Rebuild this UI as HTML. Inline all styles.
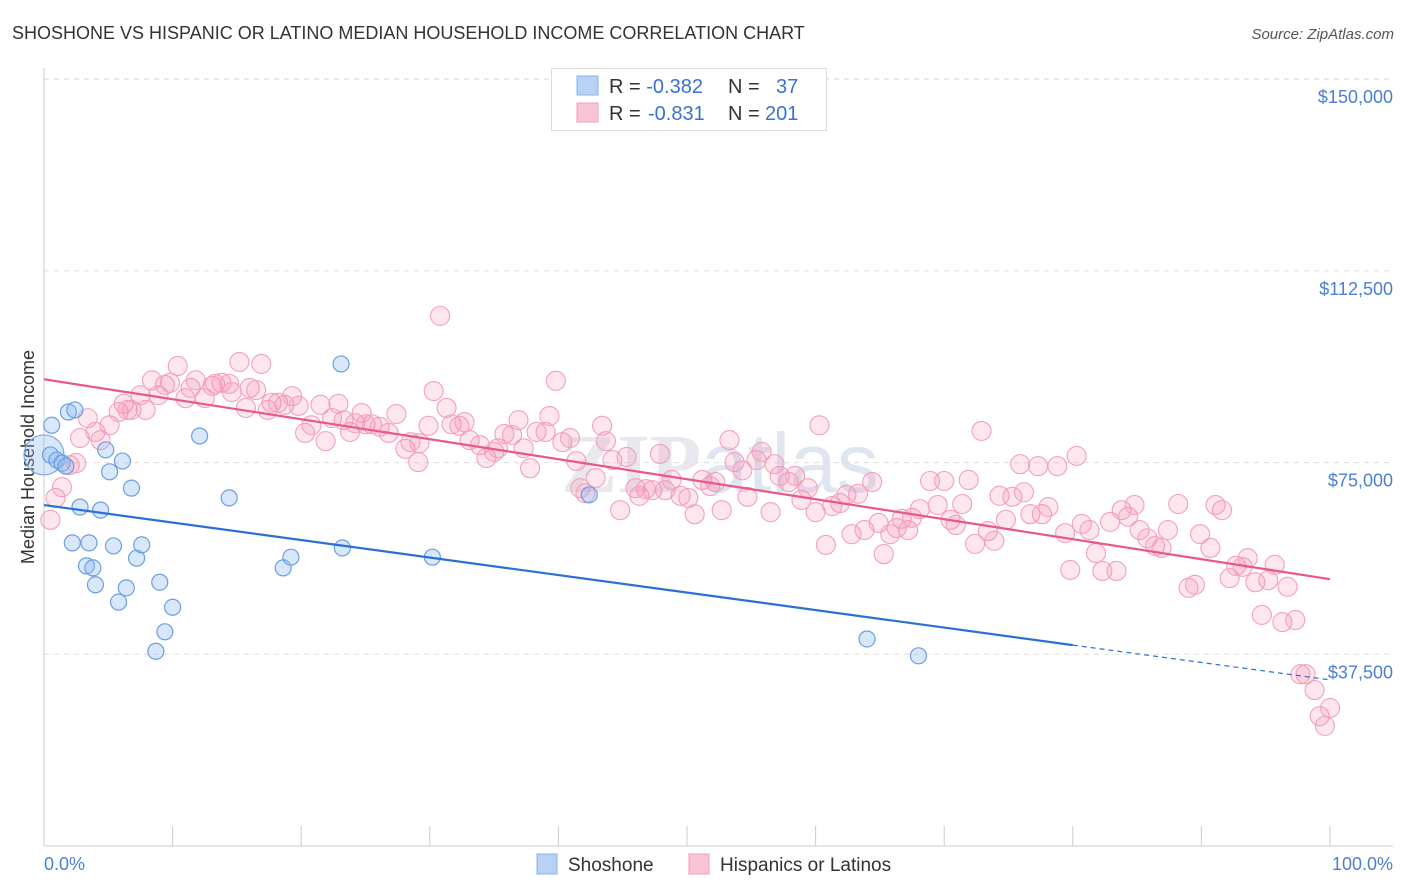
<!DOCTYPE html>
<html><head><meta charset="utf-8"><style>
body{margin:0;background:#fff;font-family:"Liberation Sans",sans-serif;}
svg{display:block}
</style></head><body>
<svg id="chart" width="1406" height="892" xmlns="http://www.w3.org/2000/svg">
<text x="12" y="39" font-size="18" fill="#333">SHOSHONE VS HISPANIC OR LATINO MEDIAN HOUSEHOLD INCOME CORRELATION CHART</text>
<text x="1394" y="39" font-size="15" fill="#555" text-anchor="end" font-style="italic">Source: ZipAtlas.com</text>
<text x="720" y="492" font-size="84" fill="#e8e8ee" text-anchor="middle" font-weight="bold" font-family="Liberation Serif,serif">ZIP<tspan font-family="Liberation Sans,sans-serif" font-weight="normal" fill="#dfe6f2">atlas</tspan></text>
<g id="grid"></g>
<line x1="44" y1="68" x2="44" y2="846" stroke="#ccc"/>
<line x1="44" y1="846" x2="1393" y2="846" stroke="#ccc"/>
<text transform="translate(34,457) rotate(-90)" font-size="18" fill="#333" text-anchor="middle">Median Household Income</text>
<text x="44" y="870" font-size="18" fill="#4a7fd4">0.0%</text>
<text x="1393" y="870" font-size="18" fill="#4a7fd4" text-anchor="end">100.0%</text>
<g id="points"></g>
<g id="lines"></g>
<g>
<rect x="551.5" y="68.5" width="275" height="62" fill="#fff" stroke="#ddd"/>
<rect x="577" y="76" width="21" height="19" fill="#b8d2f5" stroke="#8ab0e8"/>
<rect x="577" y="103" width="21" height="19" fill="#f9c5d5" stroke="#f1a0ba"/>
<text x="609" y="93" font-size="20" fill="#333">R = <tspan fill="#3a72d0">-0.382</tspan><tspan x="728">N = </tspan><tspan x="776" fill="#3a72d0">37</tspan></text>
<text x="609" y="120" font-size="20" fill="#333">R = <tspan x="648" fill="#3a72d0">-0.831</tspan><tspan x="728">N = </tspan><tspan x="765" fill="#3a72d0">201</tspan></text>
</g>
<g>
<rect x="537" y="854" width="20" height="20" fill="#b8d2f5" stroke="#8ab0e8"/>
<text x="568" y="871" font-size="19" fill="#333">Shoshone</text>
<rect x="689" y="854" width="20" height="20" fill="#f9c5d5" stroke="#f1a0ba"/>
<text x="720" y="871" font-size="19" fill="#333">Hispanics or Latinos</text>
</g>
</svg>
<script>
const yTicks=[37500,75000,112500,150000];
const yTickLabels=["$37,500","$75,000","$112,500","$150,000"];
const xTicks=[0,10,20,30,40,50,60,70,80,90,100];
const blueX=[0.5,0.6,1.0,1.4,1.7,1.9,2.4,2.2,2.8,3.5,3.3,3.8,4.0,4.4,4.8,5.1,5.4,5.8,6.1,6.4,6.8,7.2,7.6,8.7,9.0,9.4,10.0,12.1,14.4,18.6,19.2,23.1,23.2,30.2,42.4,64.0,68.0];
const blueY=[76.5,82.3,75.5,74.9,74.3,84.9,85.3,59.3,66.3,59.3,54.8,54.4,51.1,65.7,77.5,73.2,58.7,47.7,75.3,50.5,70.0,56.3,58.9,38.1,51.6,41.9,46.7,80.2,68.1,54.4,56.5,94.3,58.3,56.5,68.7,40.5,37.2];
const pinkX=[0.5,0.9,1.4,2.0,2.5,2.8,3.4,4.0,4.4,5.1,5.8,6.2,6.5,6.8,7.5,7.9,8.4,8.9,9.4,9.8,10.4,11.0,11.4,11.8,12.5,13.1,13.3,13.8,14.4,14.6,15.2,15.7,16.0,16.5,16.9,17.4,17.7,18.2,18.7,19.3,19.8,20.3,20.8,21.5,21.9,22.4,22.9,23.3,23.8,24.2,24.7,25.0,25.5,26.1,26.8,27.4,28.1,28.5,29.1,29.2,29.9,30.3,30.8,31.3,31.7,32.3,32.7,33.1,33.9,34.4,35.0,35.3,35.8,36.4,36.9,37.3,37.8,38.3,39.0,39.3,39.8,40.3,40.9,41.4,41.7,42.1,42.9,43.4,43.7,44.2,44.8,45.3,46.0,46.3,46.8,47.3,47.9,48.3,48.8,49.5,50.1,50.6,51.2,51.8,52.2,52.7,53.3,53.7,54.3,54.7,55.4,55.8,56.5,56.8,57.2,57.9,58.4,58.9,59.4,60.0,60.3,60.8,61.3,61.9,62.4,62.8,63.3,63.8,64.4,64.9,65.3,65.8,66.3,66.7,67.2,67.5,68.1,68.9,69.5,70.0,70.5,70.9,71.4,71.9,72.4,72.9,73.4,73.9,74.3,74.8,75.3,75.9,76.2,76.7,77.3,77.6,78.1,78.8,79.4,79.8,80.3,80.7,81.3,81.8,82.3,82.9,83.4,83.8,84.3,84.8,85.2,85.8,86.4,86.9,87.4,88.2,89.0,89.5,89.9,90.7,91.1,91.6,92.2,92.7,93.2,93.6,94.2,94.7,95.2,95.7,96.3,96.7,97.3,97.7,98.1,98.8,99.2,99.6,100];
const pinkY=[63.8,68.1,70.2,74.5,74.9,79.8,83.7,81.0,79.4,82.3,84.9,86.5,85.3,85.3,88.2,85.3,91.1,88.2,90.2,90.6,93.9,87.6,89.6,91.1,87.6,90.0,90.4,90.6,90.4,88.8,94.7,85.7,89.6,89.2,94.3,85.3,86.7,86.7,86.3,88.0,86.1,80.8,82.3,86.3,79.2,83.7,86.5,83.3,81.0,82.7,84.7,82.5,82.5,82.0,80.8,84.5,77.7,79.0,75.1,78.8,82.2,89.0,103.7,85.7,82.5,82.2,82.9,79.4,78.4,75.9,77.1,77.8,80.6,80.4,83.3,77.8,73.9,81.0,81.0,84.1,91.0,79.0,79.8,75.3,70.0,69.0,72.0,82.2,79.2,75.5,65.7,76.1,70.0,68.5,69.8,69.6,76.7,69.6,71.6,68.5,68.1,64.9,71.6,70.4,71.2,65.7,79.4,75.1,73.5,68.3,75.5,77.1,65.3,74.7,72.4,71.2,72.4,67.7,70.0,65.3,82.3,58.9,66.5,67.1,68.7,61.0,68.9,61.8,71.2,63.2,57.1,61.0,62.2,64.0,61.8,64.2,65.9,71.4,66.7,71.4,63.8,62.8,66.9,71.6,59.1,81.2,61.6,59.7,68.5,63.8,68.3,74.7,69.2,64.9,74.3,64.9,66.3,74.3,61.2,54.0,76.3,63.0,61.8,57.3,53.8,63.4,53.8,65.7,64.4,66.7,61.8,60.2,58.7,58.3,61.8,66.9,50.5,51.1,61.0,58.3,66.7,65.7,52.4,54.8,54.6,56.3,51.6,45.2,52.0,55.0,43.8,50.7,44.2,33.6,33.6,30.5,25.4,23.5,27.0];
// trend lines: [startX, startY(k), endX, endY(k)]
const blueTrend=[0,66.7,80,39.3];
const blueTrendExt=[80,39.3,100,32.5];
const pinkTrend=[0,91.3,100,52.2];

const NS="http://www.w3.org/2000/svg";
const xs=v=>44+v*12.86;
const ys=v=>846-v/37500*191.7;
const yk=v=>ys(v*1000);
function mk(tag,attrs,parent){const e=document.createElementNS(NS,tag);for(const k in attrs)e.setAttribute(k,attrs[k]);parent.appendChild(e);return e;}
const grid=document.getElementById('grid');
yTicks.forEach((t,i)=>{
  const l=mk('line',{x1:44,x2:1393,y1:ys(t),y2:ys(t),stroke:'#ddd','stroke-dasharray':'5,5'},grid);
  
  
  const tx=mk('text',{x:1393,y:ys(t)+24,'font-size':18,fill:'#4a7fd4','text-anchor':'end'},grid);
  tx.textContent=yTickLabels[i];
  
  
});
const gl=mk('line',{x1:44,x2:1393,y1:79,y2:79,stroke:'#ddd','stroke-dasharray':'5,5'},grid);


xTicks.forEach(t=>{
  const l=mk('line',{x1:xs(t),x2:xs(t),y1:826,y2:846,stroke:'#ccc'},grid);
  
  
});
const pts=document.getElementById('points');
pinkX.forEach((x,i)=>{
  const c=mk('circle',{cx:xs(x),cy:yk(pinkY[i]),r:9.5,fill:'rgba(244,143,177,0.22)',stroke:'#f3a0bd','stroke-width':1.1},pts);
  
  
});
const big=mk('circle',{cx:xs(0),cy:yk(76.5),r:20,fill:'rgba(144,186,240,0.35)',stroke:'#7aaae8','stroke-width':1.2},pts);


blueX.forEach((x,i)=>{
  const c=mk('circle',{cx:xs(x),cy:yk(blueY[i]),r:8,fill:'rgba(144,186,240,0.35)',stroke:'#6a9fe3','stroke-width':1.2},pts);
  
  
});
const lines=document.getElementById('lines');
const p=mk('line',{x1:xs(pinkTrend[0]),y1:yk(pinkTrend[1]),x2:xs(pinkTrend[2]),y2:yk(pinkTrend[3]),stroke:'#e8588a','stroke-width':2.2},lines);


const b=mk('line',{x1:xs(blueTrend[0]),y1:yk(blueTrend[1]),x2:xs(blueTrend[2]),y2:yk(blueTrend[3]),stroke:'#2a6fd6','stroke-width':2.2},lines);


const bd=mk('line',{x1:xs(blueTrendExt[0]),y1:yk(blueTrendExt[1]),x2:xs(blueTrendExt[2]),y2:yk(blueTrendExt[3]),stroke:'#2a6fd6','stroke-width':1.2,'stroke-dasharray':'5,4'},lines);


</script>
</body></html>
